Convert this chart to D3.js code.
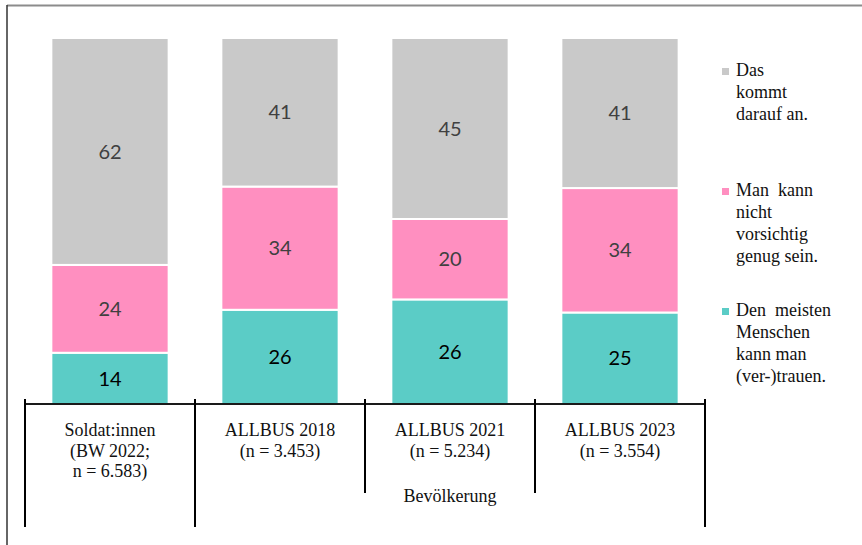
<!DOCTYPE html>
<html>
<head>
<meta charset="utf-8">
<script src="https://cdn.jsdelivr.net/npm/d3@7"></script>
<style>
  html, body { margin: 0; padding: 0; background: #fff; }
  svg { display: block; }
</style>
</head>
<body>
<div id="chart"></div>
<script>
// Vertrauen in Menschen – 100 % gestapelte Säulen

const categories = ['Soldat:innen', 'ALLBUS 2018', 'ALLBUS 2021', 'ALLBUS 2023'];
const categoryLabels = [
  ['Soldat:innen', '(BW 2022;', 'n = 6.583)'],
  ['ALLBUS 2018', '(n = 3.453)'],
  ['ALLBUS 2021', '(n = 5.234)'],
  ['ALLBUS 2023', '(n = 3.554)'],
];
const groups = [
  { label: '', from: 0, to: 0 },
  { label: 'Bevölkerung', from: 1, to: 3 },
];

// Reihen von unten nach oben
const seriesKeys   = ['vertrauen', 'vorsichtig', 'kommtDarauf'];
const vertrauen    = [14, 26, 26, 25];
const vorsichtig   = [24, 34, 20, 34];
const kommtDarauf  = [62, 41, 45, 41];

const legendItems = [
  { key: 'kommtDarauf', lines: ['Das', 'kommt', 'darauf an.'] },
  { key: 'vorsichtig',  lines: ['Man  kann', 'nicht', 'vorsichtig', 'genug sein.'] },
  { key: 'vertrauen',   lines: ['Den  meisten', 'Menschen', 'kann man', '(ver-)trauen.'] },
];

const COLORS = {
  vertrauen: '#5bccc6', vorsichtig: '#ff8fc0', kommtDarauf: '#c9c9c9',
};
const LABEL_COLORS = { vertrauen: '#000000', vorsichtig: '#404040', kommtDarauf: '#404040' };

const W = 862, H = 545;
const X0 = 25, X1 = 705, Y0 = 404, Y1 = 38;
const SERIF = '"Liberation Serif", "Times New Roman", serif';
const SANS  = 'Lato, Carlito, Calibri, "Open Sans", sans-serif';

const svg = d3.select('#chart').append('svg')
  .attr('width', W).attr('height', H);

// Rahmen
svg.append('line').attr('x1', 7).attr('x2', W).attr('y1', 5.5).attr('y2', 5.5)
  .attr('stroke', '#8c8c8c').attr('stroke-width', 2);
svg.append('line').attr('x1', 7).attr('x2', 7).attr('y1', 5).attr('y2', H)
  .attr('stroke', '#333').attr('stroke-width', 1.5);

const table = categories.map((c, i) => ({
  cat: c, vertrauen: vertrauen[i], vorsichtig: vorsichtig[i], kommtDarauf: kommtDarauf[i],
}));

const stacked = d3.stack().keys(seriesKeys).offset(d3.stackOffsetExpand)(table);

const x = d3.scaleBand().domain(categories).range([X0, X1])
  .paddingInner(0.31).paddingOuter(0.155);
const y = d3.scaleLinear().domain([0, 1]).range([Y0, Y1]);

const layers = svg.append('g').selectAll('g')
  .data(stacked)
  .join('g')
  .attr('fill', d => COLORS[d.key]);

layers.selectAll('rect')
  .data(d => d)
  .join('rect')
  .attr('x', d => x(d.data.cat))
  .attr('width', x.bandwidth())
  .attr('y', d => y(d[1]))
  .attr('height', d => y(d[0]) - y(d[1]))
  .attr('stroke', '#fff').attr('stroke-width', 2);

layers.each(function (layer) {
  d3.select(this).selectAll('text')
    .data(layer)
    .join('text')
    .attr('x', d => x(d.data.cat) + x.bandwidth() / 2)
    .attr('y', d => (y(d[0]) + y(d[1])) / 2)
    .attr('dy', '0.36em')
    .attr('text-anchor', 'middle')
    .attr('font-family', SANS).attr('font-size', 20)
    .attr('fill', LABEL_COLORS[layer.key])
    .text(d => d.data[layer.key]);
});

// Mehrstufige Kategorienachse
const step = x.step();
const edge = i => x(categories[i]) - step * x.paddingInner() / 2;
const rightEdge = i => edge(i) + step;

const axis = svg.append('g');
axis.append('line').attr('x1', X0).attr('x2', X1).attr('y1', Y0).attr('y2', Y0)
  .attr('stroke', '#1a1a1a').attr('stroke-width', 2);

const bounds = [];
categories.forEach((c, i) => {
  const isGroupEdge = groups.some(g => g.from === i);
  bounds.push({ x: edge(i), long: isGroupEdge });
});
bounds.push({ x: rightEdge(categories.length - 1), long: true });

axis.selectAll('.tick')
  .data(bounds)
  .join('line')
  .attr('class', 'tick')
  .attr('x1', d => d.x).attr('x2', d => d.x)
  .attr('y1', Y0 - 5).attr('y2', d => d.long ? 527 : 493)
  .attr('stroke', '#000').attr('stroke-width', 2);

axis.selectAll('.cat-label')
  .data(categories)
  .join('text')
  .attr('class', 'cat-label')
  .attr('x', d => x(d) + x.bandwidth() / 2)
  .attr('y', 436)
  .attr('text-anchor', 'middle')
  .attr('font-family', SERIF).attr('font-size', 18)
  .attr('fill', '#111')
  .each(function (d, i) {
    d3.select(this).selectAll('tspan')
      .data(categoryLabels[i])
      .join('tspan')
      .attr('x', x(d) + x.bandwidth() / 2)
      .attr('dy', (t, j) => j === 0 ? 0 : 20.5)
      .text(t => t);
  });

axis.selectAll('.group-label')
  .data(groups.filter(g => g.label))
  .join('text')
  .attr('class', 'group-label')
  .attr('x', g => (edge(g.from) + rightEdge(g.to)) / 2)
  .attr('y', 502)
  .attr('text-anchor', 'middle')
  .attr('font-family', SERIF).attr('font-size', 18)
  .attr('fill', '#111')
  .text(g => g.label);

// Legende
const legendY = [76, 196, 316];
const legend = svg.append('g');
legendItems.forEach((item, i) => {
  const ly = legendY[i];
  legend.append('rect')
    .attr('x', 722).attr('y', ly - 8).attr('width', 7).attr('height', 7)
    .attr('fill', COLORS[item.key]);
  const t = legend.append('text')
    .attr('x', 736).attr('y', ly)
    .attr('font-family', SERIF).attr('font-size', 18)
    .attr('fill', '#111')
    .attr('xml:space', 'preserve');
  t.selectAll('tspan')
    .data(item.lines)
    .join('tspan')
    .attr('x', 736)
    .attr('dy', (s, j) => j === 0 ? 0 : 22)
    .text(s => s);
});
</script>
</body>
</html>
